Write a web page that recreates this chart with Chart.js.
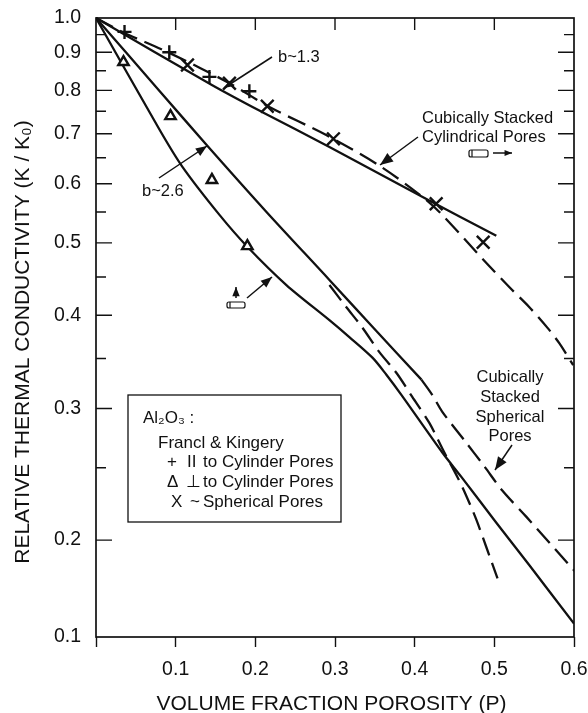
<!DOCTYPE html>
<html>
<head>
<meta charset="utf-8">
<title>Relative thermal conductivity vs porosity</title>
<style>
  html, body { margin: 0; padding: 0; background: #fff; }
  #wrap { width: 588px; height: 713px; }
</style>
<script src="https://cdn.jsdelivr.net/npm/chart.js@4/dist/chart.umd.min.js"></script>
</head>
<body>
<div id="wrap"><canvas id="chart" width="588" height="713"></canvas></div>
<script>
// === Values ===
const yTickValues = [1.0, 0.95, 0.9, 0.85, 0.8, 0.75, 0.7, 0.65, 0.6, 0.55, 0.5, 0.45, 0.4, 0.35, 0.3, 0.25, 0.2, 0.1];
const yTickLabels = [1.0, 0.9, 0.8, 0.7, 0.6, 0.5, 0.4, 0.3, 0.2, 0.1];
const xTickValues = [0.1, 0.2, 0.3, 0.4, 0.5, 0.6];

const cylSolidP = [0, 0.146, 0.209, 0.293, 0.41, 0.5025];
const cylSolidK = [1.0, 0.813, 0.748, 0.672, 0.576, 0.511];

const cylDashP = [0, 0.033, 0.092, 0.1675, 0.2177, 0.289, 0.356, 0.41, 0.431, 0.49, 0.519, 0.544, 0.5665, 0.5815, 0.599];
const cylDashK = [1.0, 0.958, 0.898, 0.818, 0.76, 0.697, 0.634, 0.576, 0.55, 0.47, 0.436, 0.41, 0.385, 0.367, 0.343];

const upperSolidP = [0, 0.08, 0.14, 0.214, 0.293, 0.347, 0.4085];
const upperSolidK = [1.0, 0.798, 0.674, 0.55, 0.446, 0.386, 0.328];

const upperDashP = [0.4085, 0.422, 0.4347, 0.4624, 0.4875, 0.51, 0.54, 0.5776, 0.602];
const upperDashK = [0.328, 0.313, 0.297, 0.272, 0.251, 0.233, 0.215, 0.186, 0.159];

const lowerDashP = [0.293, 0.3143, 0.3344, 0.3557, 0.377, 0.397, 0.4184, 0.4373, 0.4536, 0.465, 0.4774, 0.49, 0.504];
const lowerDashK = [0.439, 0.41, 0.385, 0.357, 0.335, 0.311, 0.287, 0.262, 0.243, 0.229, 0.213, 0.19, 0.152];

const lowerSolidP = [0, 0.08, 0.1085, 0.155, 0.19, 0.239, 0.293, 0.318, 0.347, 0.3645, 0.3833, 0.4347, 0.4586, 0.5025, 0.544, 0.6];
const lowerSolidK = [1.0, 0.708, 0.632, 0.545, 0.494, 0.439, 0.394, 0.374, 0.351, 0.333, 0.313, 0.262, 0.243, 0.211, 0.167, 0.11];

const plusP = [0.0358, 0.092, 0.1424, 0.1925];
const plusK = [0.958, 0.9, 0.834, 0.798];
const triP = [0.0345, 0.0935, 0.1455, 0.19];
const triK = [0.873, 0.739, 0.607, 0.495];
const crossP = [0.1148, 0.1675, 0.215, 0.298, 0.427, 0.486];
const crossK = [0.865, 0.818, 0.762, 0.689, 0.564, 0.501];

const INK = "#111";
const FONT = "'Liberation Sans', Arial, sans-serif";

function zip(xs, ys) {
    return xs.map((x, i) => ({ x: x, y: ys[i] }));
}

// The printed axis is logarithmic down to 0.2, then squeezed between 0.2 and 0.1
class SqueezedLogScale extends Chart.LinearScale {
    static id = "squeezedLog";
    static defaults = {};

    depth(v) {
        if (v >= 0.2) return Math.log10(1 / v);
        return Math.log10(1 / 0.2) + Math.log10(0.2 / v) * 0.431;
    }
    buildTicks() {
        this.min = 0.1;
        this.max = 1;
        return yTickValues.map(v => ({ value: v }));
    }
    getPixelForValue(v) {
        return this.top + (this.depth(v) / this.depth(0.1)) * (this.bottom - this.top);
    }
    getValueForPixel(px) {
        const d = ((px - this.top) / (this.bottom - this.top)) * this.depth(0.1);
        const knee = Math.log10(5);
        return d <= knee ? Math.pow(10, -d) : 0.2 * Math.pow(10, -(d - knee) / 0.431);
    }
}
Chart.register(SqueezedLogScale);

function arrow(ctx, x1, y1, x2, y2, head) {
    const a = Math.atan2(y2 - y1, x2 - x1);
    ctx.lineWidth = 1.5;
    ctx.beginPath();
    ctx.moveTo(x1, y1);
    ctx.lineTo(x2, y2);
    ctx.stroke();
    ctx.beginPath();
    ctx.moveTo(x2, y2);
    ctx.lineTo(x2 - head * Math.cos(a - 0.38), y2 - head * Math.sin(a - 0.38));
    ctx.lineTo(x2 - head * Math.cos(a + 0.38), y2 - head * Math.sin(a + 0.38));
    ctx.closePath();
    ctx.fill();
}

function pore(ctx, x, y, w, h) {
    ctx.lineWidth = 1.2;
    ctx.beginPath();
    ctx.roundRect(x, y, w, h, 2);
    ctx.stroke();
    ctx.beginPath();
    ctx.moveTo(x + 3, y);
    ctx.lineTo(x + 3, y + h);
    ctx.stroke();
}

// Inward ticks, frame, notes and legend box: all the printed extras
const figureExtras = {
    id: "figureExtras",
    afterDatasetsDraw(chart) {
        const { ctx, scales, chartArea } = chart;
        const { left, right, top, bottom } = chartArea;
        ctx.save();
        ctx.strokeStyle = INK;
        ctx.fillStyle = INK;

        // frame
        ctx.lineWidth = 1.7;
        ctx.strokeRect(left, top, right - left, bottom - top);

        // y ticks on both sides
        ctx.lineWidth = 1.4;
        yTickValues.forEach(v => {
            if (v === 1 || v === 0.1) return;
            const y = scales.y.getPixelForValue(v);
            const len = yTickLabels.includes(v) ? 16 : 10;
            ctx.beginPath();
            ctx.moveTo(left, y);
            ctx.lineTo(left + len, y);
            ctx.moveTo(right, y);
            ctx.lineTo(right - len, y);
            ctx.stroke();
        });

        // x ticks along the top
        xTickValues.slice(0, 5).forEach(v => {
            const x = scales.x.getPixelForValue(v);
            ctx.beginPath();
            ctx.moveTo(x, top);
            ctx.lineTo(x, top + 12);
            ctx.stroke();
        });

        // axis titles
        ctx.textAlign = "center";
        ctx.textBaseline = "middle";
        ctx.font = "21px " + FONT;
        ctx.fillText("VOLUME FRACTION POROSITY (P)", 331.5, 704);
        ctx.save();
        ctx.translate(23, 342);
        ctx.rotate(-Math.PI / 2);
        ctx.fillText("RELATIVE THERMAL CONDUCTIVITY (K / K₀)", 0, 0);
        ctx.restore();

        // notes on the curves
        ctx.font = "16.5px " + FONT;
        ctx.textAlign = "left";
        ctx.fillText("b~1.3", 278, 57);
        ctx.fillText("b~2.6", 142, 191);
        ctx.fillText("Cubically Stacked", 422, 118);
        ctx.fillText("Cylindrical Pores", 422, 137);
        ctx.textAlign = "center";
        ctx.fillText("Cubically", 510, 377);
        ctx.fillText("Stacked", 510, 397);
        ctx.fillText("Spherical", 510, 417);
        ctx.fillText("Pores", 510, 436);

        arrow(ctx, 272, 57, 224, 88, 9);
        arrow(ctx, 159, 178, 207, 146, 12);
        arrow(ctx, 247, 298, 272, 277, 12);
        arrow(ctx, 236, 298, 236, 287, 10);
        arrow(ctx, 418, 137, 380, 165, 14);
        arrow(ctx, 493, 153, 512, 153, 8);
        arrow(ctx, 512, 445, 495, 470, 14);
        pore(ctx, 227, 302, 18, 6);
        pore(ctx, 469, 150, 19, 7);

        // legend box
        ctx.lineWidth = 1.3;
        ctx.strokeRect(128, 395, 213, 127);
        ctx.textAlign = "left";
        ctx.font = "17px " + FONT;
        ctx.fillText("Al₂O₃ :", 143, 418);
        ctx.fillText("Francl & Kingery", 158, 443);
        ctx.fillText("+", 167, 462);
        ctx.fillText("II", 187, 462);
        ctx.fillText("to Cylinder Pores", 203, 462);
        ctx.fillText("Δ", 167, 482);
        ctx.fillText("⊥", 186, 482);
        ctx.fillText("to Cylinder Pores", 203, 482);
        ctx.fillText("X", 171, 502);
        ctx.fillText("~", 190, 502);
        ctx.fillText("Spherical Pores", 203, 502);
        ctx.restore();
    }
};

function curve(xs, ys, dashed) {
    return {
        data: zip(xs, ys),
        borderColor: INK,
        borderWidth: 2.3,
        borderDash: dashed ? [19, 8] : [],
        pointRadius: 0,
        tension: 0.3,
        order: 2
    };
}

function markers(xs, ys, style, radius) {
    return {
        data: zip(xs, ys),
        showLine: false,
        pointStyle: style,
        pointRadius: radius,
        pointBorderWidth: 2.4,
        pointBorderColor: INK,
        pointBackgroundColor: "#fff",
        order: 1
    };
}

new Chart(document.getElementById("chart"), {
    type: "line",
    data: {
        datasets: [
            curve(cylSolidP, cylSolidK, false),
            curve(cylDashP, cylDashK, true),
            curve(upperSolidP, upperSolidK, false),
            curve(upperDashP, upperDashK, true),
            curve(lowerDashP, lowerDashK, true),
            curve(lowerSolidP, lowerSolidK, false),
            markers(plusP, plusK, "cross", 7),
            markers(triP, triK, "triangle", 6),
            markers(crossP, crossK, "crossRot", 9)
        ]
    },
    options: {
        responsive: false,
        animation: false,
        layout: { padding: { top: 18, right: 14, left: 0, bottom: 0 } },
        plugins: { legend: { display: false }, tooltip: { enabled: false } },
        scales: {
            x: {
                type: "linear",
                min: 0,
                max: 0.6,
                afterBuildTicks(scale) {
                    scale.ticks = [0].concat(xTickValues).map(v => ({ value: v }));
                },
                afterFit(scale) {
                    scale.height = 76;
                    scale.paddingRight = 0;
                    scale.paddingLeft = 0;
                },
                grid: { drawOnChartArea: false, tickLength: 10, tickColor: INK, tickWidth: 1.4 },
                border: { display: false },
                ticks: {
                    color: INK,
                    padding: 11,
                    maxRotation: 0,
                    font: { family: FONT, size: 19.5 },
                    callback: v => (v === 0 ? "" : v.toFixed(1))
                }
            },
            y: {
                type: "squeezedLog",
                afterFit(scale) {
                    scale.width = 96;
                    scale.paddingTop = 0;
                    scale.paddingBottom = 0;
                },
                grid: { display: false },
                border: { display: false },
                ticks: {
                    color: INK,
                    padding: 7,
                    autoSkip: false,
                    font: { family: FONT, size: 19.5 },
                    callback: v => (yTickLabels.includes(v) ? v.toFixed(1) : "")
                }
            }
        }
    },
    plugins: [figureExtras]
});
</script>
</body>
</html>
